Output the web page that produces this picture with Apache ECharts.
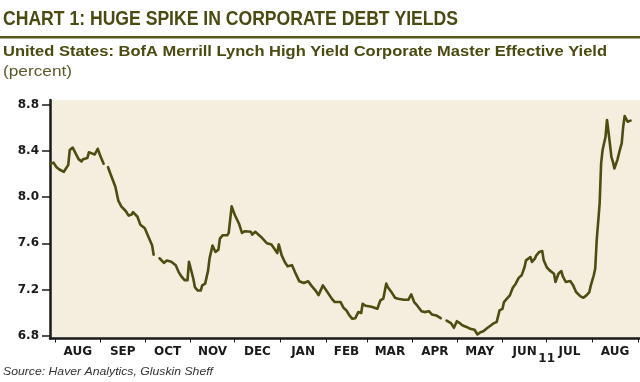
<!DOCTYPE html>
<html><head><meta charset="utf-8">
<script src="https://cdn.jsdelivr.net/npm/echarts@6/dist/echarts.min.js"></script>
<style>html,body{margin:0;padding:0;background:#fff}#c{width:640px;height:382px}</style>
</head><body><div id="c"></div>
<script>
const dates = [
'2010-07-29','2010-07-31','2010-08-02','2010-08-04','2010-08-07','2010-08-08','2010-08-10','2010-08-11','2010-08-13','2010-08-15',
'2010-08-17','2010-08-19','2010-08-20','2010-08-23','2010-08-24','2010-08-26','2010-08-28','2010-08-30','2010-09-01','2010-09-03',
'2010-09-05','2010-09-06','2010-09-08','2010-09-11','2010-09-13','2010-09-15','2010-09-18','2010-09-20','2010-09-22','2010-09-23',
'2010-09-26','2010-09-28','2010-09-29','2010-10-01','2010-10-03','2010-10-06','2010-10-07','2010-10-09','2010-10-11','2010-10-14',
'2010-10-16','2010-10-19','2010-10-22','2010-10-24','2010-10-26','2010-10-28','2010-10-30','2010-10-31','2010-11-01','2010-11-03',
'2010-11-04','2010-11-06','2010-11-08','2010-11-09','2010-11-11','2010-11-13','2010-11-14','2010-11-16','2010-11-18','2010-11-20',
'2010-11-21','2010-11-23','2010-11-26','2010-11-27','2010-11-29','2010-12-01','2010-12-04','2010-12-06','2010-12-08','2010-12-12',
'2010-12-13','2010-12-15','2010-12-19','2010-12-23','2010-12-26','2010-12-30','2010-12-31','2011-01-02','2011-01-04','2011-01-06',
'2011-01-09','2011-01-11','2011-01-14','2011-01-17','2011-01-20','2011-01-22','2011-01-25','2011-01-27','2011-01-30','2011-02-02',
'2011-02-05','2011-02-07','2011-02-11','2011-02-13','2011-02-15','2011-02-17','2011-02-19','2011-02-21','2011-02-23','2011-02-25',
'2011-02-26','2011-02-28','2011-03-04','2011-03-08','2011-03-10','2011-03-12','2011-03-14','2011-03-15','2011-03-18','2011-03-20',
'2011-03-22','2011-03-26','2011-03-29','2011-03-31','2011-04-02','2011-04-04','2011-04-07','2011-04-09','2011-04-12','2011-04-14',
'2011-04-17','2011-04-20','2011-04-22','2011-04-24','2011-04-27','2011-04-29','2011-05-01','2011-05-03','2011-05-05','2011-05-08',
'2011-05-10','2011-05-11','2011-05-13','2011-05-15','2011-05-17','2011-05-19','2011-05-21','2011-05-24','2011-05-26','2011-05-28',
'2011-05-30','2011-06-01','2011-06-02','2011-06-04','2011-06-06','2011-06-08','2011-06-10','2011-06-12','2011-06-14','2011-06-16',
'2011-06-17','2011-06-20','2011-06-21','2011-06-23','2011-06-24','2011-06-26','2011-06-28','2011-06-29','2011-07-01','2011-07-03',
'2011-07-06','2011-07-07','2011-07-09','2011-07-11','2011-07-12','2011-07-14','2011-07-17','2011-07-19','2011-07-21','2011-07-24',
'2011-07-26','2011-07-28','2011-07-30','2011-07-31','2011-08-02','2011-08-03','2011-08-04','2011-08-06','2011-08-07','2011-08-08',
'2011-08-10','2011-08-11','2011-08-12','2011-08-14','2011-08-15','2011-08-16','2011-08-18','2011-08-20','2011-08-21','2011-08-22',
'2011-08-23','2011-08-25','2011-08-26','2011-08-27'
];
const yields = [
8.29,8.30,8.26,8.24,8.22,8.21,8.28,8.41,8.43,8.38,
8.33,8.31,8.33,8.34,8.39,8.38,8.37,8.42,8.35,8.29,
null,8.26,8.19,8.09,7.97,7.92,7.88,7.84,7.85,7.87,
7.83,7.76,7.75,7.73,7.67,7.58,7.50,null,7.47,7.43,
7.45,7.44,7.41,7.35,7.31,7.28,7.28,7.44,7.39,7.29,
7.22,7.19,7.19,7.235,7.25,7.365,7.47,7.58,7.525,7.545,
7.64,7.67,7.67,7.69,7.92,7.85,7.77,7.69,7.705,7.70,
7.675,7.70,7.655,7.60,7.59,7.515,7.59,7.495,7.44,7.40,
7.41,7.35,7.27,7.255,7.27,7.235,7.19,7.15,7.235,7.177,
7.12,7.09,7.09,7.04,7.017,6.974,6.945,6.95,7.003,6.995,
7.075,7.058,7.05,7.032,7.104,7.119,7.25,7.22,7.168,7.128,
7.119,7.11,7.11,7.157,7.09,7.061,7.011,7.003,7.011,6.983,
6.974,6.95,null,6.93,6.907,6.867,6.924,6.907,6.887,6.872,
6.858,6.867,6.85,6.809,6.829,6.837,6.858,6.887,6.907,6.916,
7.017,7.032,7.09,7.119,7.148,7.214,7.25,7.30,7.322,7.394,
7.452,7.481,7.438,7.467,7.496,7.525,7.533,7.452,7.394,7.365,
7.336,7.264,7.336,7.359,7.313,7.264,7.272,7.235,7.177,7.139,
7.128,7.148,7.177,7.235,7.322,7.38,7.626,7.945,8.293,8.409,
8.524,8.67,8.568,8.35,8.307,8.249,8.322,8.423,8.467,8.611,
8.704,8.655,8.67,8.664
];
const monthStarts = ['2010-08-01','2010-09-01','2010-10-01','2010-11-01','2010-12-01','2011-01-01','2011-02-01',
  '2011-03-01','2011-04-01','2011-05-01','2011-06-01','2011-07-01','2011-08-01','2011-09-01'];
const monthLabels = ['AUG','SEP','OCT','NOV','DEC','JAN','FEB','MAR','APR','MAY','JUN','JUL','AUG'];
const yTicks = [6.8, 7.2, 7.6, 8.0, 8.4, 8.8];
const yearLabel = '11';
const yearLabelDate = '2011-07-01';

const titleText = 'CHART 1: HUGE SPIKE IN CORPORATE DEBT YIELDS';
const subtitleText = 'United States: BofA Merrill Lynch High Yield Corporate Master Effective Yield';
const unitText = '(percent)';
const sourceText = 'Source: Haver Analytics, Gluskin Sheff';

const DAY = 86400e3;
function ts(s) { return Date.UTC(+s.slice(0, 4), +s.slice(5, 7) - 1, +s.slice(8, 10)); }
const tickVals = monthStarts.map(ts);
const labelVals = monthLabels.map((m, i) => (tickVals[i] + tickVals[i + 1]) / 2);
const seriesData = dates.map((d, i) => [ts(d), yields[i] == null ? '-' : yields[i]]);
const xMin = ts('2010-07-28') + 14 * 3600e3;
const xMax = ts('2011-09-02') + 10 * 3600e3;

const cv = document.createElement('canvas').getContext('2d');
function fitScale(text, font, w) { cv.font = font; const m = cv.measureText(text).width; return m > 0 ? w / m : 1; }

const FONT = '"Liberation Sans", Arial, Helvetica, sans-serif';
const fTitle = 'bold 21px ' + FONT;
const fSub = 'bold 14px ' + FONT;
const fUnit = '14px ' + FONT;
const fSrc = 'italic 11.5px ' + FONT;
const olive = '#4b4a10';
const axisFont = { fontFamily: '"DejaVu Sans", sans-serif', fontWeight: 'bold', fontSize: 12, color: '#1a1a1a' };

const chart = echarts.init(document.getElementById('c'), null, { renderer: 'canvas' });
chart.setOption({
  animation: false,
  backgroundColor: '#ffffff',
  grid: { left: 50, right: 0, top: 100, bottom: 43.5, show: true, backgroundColor: '#f3eedd', borderWidth: 0 },
  xAxis: [{
    type: 'value', min: xMin, max: xMax,
    axisLine: { show: true, onZero: false, lineStyle: { color: '#1a1a1a', width: 2.5 } },
    axisTick: { show: true, customValues: tickVals, length: 4, lineStyle: { color: '#1a1a1a', width: 1 } },
    axisLabel: Object.assign({
      customValues: labelVals, margin: 7,
      formatter: (v) => { const i = labelVals.findIndex(p => Math.abs(p - v) < DAY); return i >= 0 ? monthLabels[i] : ''; }
    }, axisFont),
    splitLine: { show: false }
  }, {
    type: 'value', position: 'bottom', min: xMin, max: xMax,
    axisLine: { show: false }, axisTick: { show: false }, splitLine: { show: false },
    axisLabel: Object.assign({
      customValues: [ts(yearLabelDate)], margin: 14,
      formatter: () => yearLabel
    }, axisFont)
  }],
  yAxis: {
    type: 'value', min: 6.774, max: 8.843,
    axisLine: { show: true, onZero: false, lineStyle: { color: '#1a1a1a', width: 2.5 } },
    axisTick: { show: true, customValues: yTicks, length: 8, lineStyle: { color: '#1a1a1a', width: 1.5 } },
    axisLabel: Object.assign({
      customValues: yTicks, margin: 11,
      formatter: (v) => (+v).toFixed(1)
    }, axisFont),
    splitLine: { show: false }
  },
  series: [{
    type: 'line', xAxisIndex: 0, data: seriesData, showSymbol: false, connectNulls: false,
    lineStyle: { color: '#4e4c10', width: 2.6, join: 'round', cap: 'round' }
  }],
  graphic: [
    { type: 'text', x: 3, y: 19, scaleX: fitScale(titleText, fTitle, 455),
      style: { text: titleText, font: fTitle, fill: olive, verticalAlign: 'middle' } },
    { type: 'rect', shape: { x: 0, y: 36, width: 640, height: 2.5 }, style: { fill: '#5a5a1c' } },
    { type: 'text', x: 3, y: 52, scaleX: fitScale(subtitleText, fSub, 604),
      style: { text: subtitleText, font: fSub, fill: olive, verticalAlign: 'middle' } },
    { type: 'text', x: 3, y: 72, scaleX: fitScale(unitText, fUnit, 69),
      style: { text: unitText, font: fUnit, fill: '#5b5a28', verticalAlign: 'middle' } },
    { type: 'text', x: 3, y: 372, scaleX: fitScale(sourceText, fSrc, 210),
      style: { text: sourceText, font: fSrc, fill: '#333333', verticalAlign: 'middle' } }
  ]
});
</script>
</body></html>
